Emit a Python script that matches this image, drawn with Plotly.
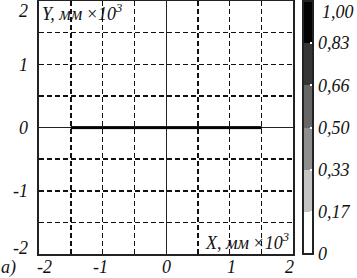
import plotly.graph_objects as go

# data
line_x = [-1.5, 1.5]          # extent of the dense band along X
line_y = [-0.022, 0.022]      # thin band around Y = 0
line_z = [[1.0]]
cbar_vals = [0, 1/6, 2/6, 3/6, 4/6, 5/6, 1]
cbar_text = ["0", "0,17", "0,33", "0,50", "0,66", "0,83", "1,00"]
axis_ticks = [-2, -1, 0, 1, 2]
axis_text = ["-2", "-1", "0", "1", "2"]

greys = ["#ffffff", "#c4c4c4", "#8e8e8e", "#666666", "#363636", "#030303"]
cs = []
for i, c in enumerate(greys):
    cs.append([i / 6, c])
    cs.append([(i + 1) / 6, c])

FONT = "Liberation Serif, Times New Roman, serif"
TF = dict(family=FONT, size=18, color="#111", style="italic")

fig = go.Figure()
fig.add_trace(go.Heatmap(
    x=line_x, y=line_y, z=line_z, zmin=0, zmax=1,
    colorscale=cs, showscale=True, hoverinfo="skip",
    colorbar=dict(
        x=1.039, xanchor="left", xpad=0, ypad=0,
        y=0.5, yanchor="middle", len=1.0, lenmode="fraction",
        thickness=10, outlinewidth=2, outlinecolor="#222",
        tickvals=cbar_vals,
        ticktext=["<i>%s</i>" % t if v < 1 else "" for v, t in zip(cbar_vals, cbar_text)],
        ticks="inside", ticklen=4, tickcolor="white", tickwidth=2,
        tickfont=TF,
    ),
))

axis_common = dict(
    showgrid=True, gridcolor="#111", gridwidth=1.5, griddash="5px,3px",
    dtick=0.5, tick0=0,
    zeroline=True, zerolinecolor="#222", zerolinewidth=1,
    showline=True, mirror=True, linecolor="#222", linewidth=2,
    ticks="", showticklabels=False,
)
fig.update_xaxes(range=[-2, 2], **axis_common)
fig.update_yaxes(range=[-2, 2], **axis_common)

ann = []
xt_shift = {-2: 5, -1: -2, 0: 0, 1: 2, 2: -4}
for v, t in zip(axis_ticks, axis_text):
    ann.append(dict(x=v, y=0, xref="x", yref="paper", text="<i>%s</i>" % t, showarrow=False,
                    yanchor="top", yshift=-1, xshift=xt_shift[v], font=TF))
yt_shift = {-2: 6, -1: 0, 0: 0, 1: -1, 2: -10}
for v, t in zip(axis_ticks, axis_text):
    ann.append(dict(x=0, y=v, xref="paper", yref="y", text="<i>%s</i>" % t, showarrow=False,
                    xanchor="right", xshift=-9, yshift=yt_shift[v], font=TF))
# top colorbar label
ann.append(dict(x=1.106, y=1, xref="paper", yref="paper", xanchor="left", yanchor="middle",
                yshift=-11, text="<i>%s</i>" % cbar_text[-1], showarrow=False, font=TF))
ann.append(dict(x=-1.99, y=2, xref="x", yref="y", xanchor="left", yanchor="top",
                yshift=2, text="<i>Y, мм\u2009×10<sup>3</sup></i>", showarrow=False,
                font=dict(family=FONT, size=18, color="#111", style="italic")))
ann.append(dict(x=1.97, y=-2, xref="x", yref="y", xanchor="right", yanchor="bottom",
                yshift=-1, text="<i>X, мм\u2009×10<sup>3</sup></i>", showarrow=False,
                font=dict(family=FONT, size=18, color="#111", style="italic")))
ann.append(dict(x=0, y=0, xref="paper", yref="paper", xanchor="left", yanchor="top",
                xshift=-40, yshift=-1, text="<i>а)</i>", showarrow=False, font=TF))

fig.update_layout(
    width=357, height=278,
    margin=dict(l=39, r=64, t=1, b=24, autoexpand=False),
    paper_bgcolor="white", plot_bgcolor="white",
    showlegend=False, annotations=ann,
)
fig.write_html("out.html", config={"displayModeBar": False, "staticPlot": True},
               post_script="document.body.style.margin='0';")
